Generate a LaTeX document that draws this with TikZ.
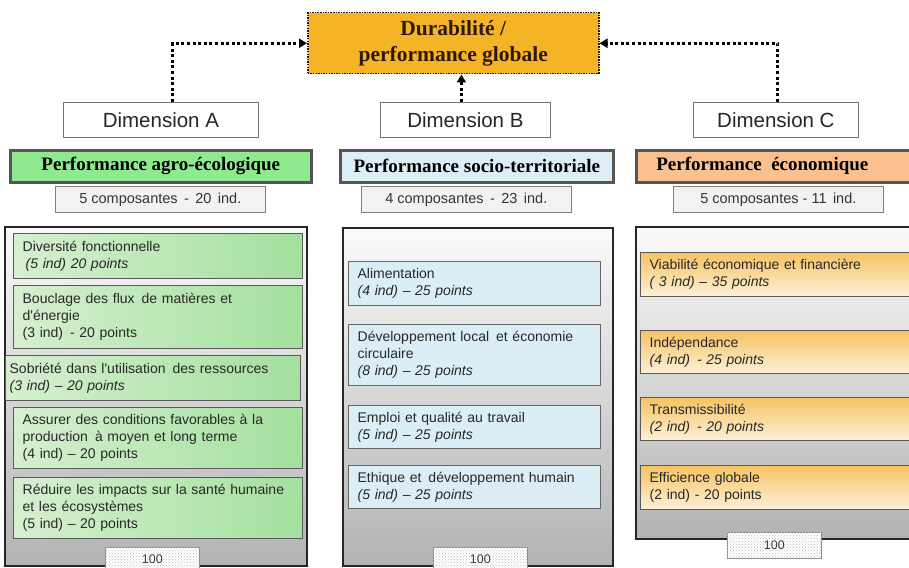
\documentclass[tikz,border=0pt]{standalone}
\usepackage{fontspec}
\setmainfont{Liberation Serif}
\newfontfamily\arialfont{Liberation Sans}
\usetikzlibrary{arrows.meta,calc,positioning,patterns}

\definecolor{goldFill}{RGB}{245,179,38}
\definecolor{goldText}{RGB}{45,25,5}
\definecolor{hdrLine}{RGB}{85,85,85}
\definecolor{greenHdr}{RGB}{143,234,143}
\definecolor{blueHdr}{RGB}{221,238,246}
\definecolor{orangeHdr}{RGB}{250,192,144}
\definecolor{greenLt}{RGB}{214,239,208}
\definecolor{greenDk}{RGB}{163,224,158}
\definecolor{blueItem}{RGB}{219,238,245}
\definecolor{orangeDk}{RGB}{246,195,98}
\definecolor{orangeLt}{RGB}{253,241,217}
\definecolor{itemLine}{RGB}{90,90,90}
\definecolor{itemText}{RGB}{40,40,40}

\newcommand{\itemfont}{\arialfont\fontsize{14}{17}\selectfont}
\newcommand{\ndash}{\textendash}

\begin{document}
\begin{tikzpicture}[
    x=1pt, y=-1pt,
    dotLink/.style={line width=3pt, dash pattern=on 3pt off 2.6pt,
      -{Triangle[length=8pt,width=9pt]}},
    topBox/.style={anchor=north west, draw=goldText, line width=1.5pt,
      dash pattern=on 1.5pt off 1.1pt, fill=goldFill, align=center,
      text=goldText, font=\bfseries\fontsize{21.5}{26}\selectfont},
    dimBox/.style={anchor=north west, draw=black!55, line width=0.8pt, fill=white,
      minimum height=35pt, text=black!85, font=\arialfont\fontsize{20.5}{22}\selectfont},
    hdr/.style={anchor=north west, draw=hdrLine, line width=2.6pt,
      minimum height=32pt, font=\bfseries\fontsize{19}{21}\selectfont},
    compBox/.style={anchor=north west, draw=black!50, line width=0.7pt, fill=black!5,
      minimum width=210pt, minimum height=26pt, text=black!80,
      font=\arialfont\fontsize{14.5}{16}\selectfont},
    panel/.style={anchor=north west, draw=black!85, line width=2.2pt,
      top color=black!2, bottom color=black!30},
    item/.style={anchor=north west, draw=itemLine, line width=1.3pt, align=left,
      inner xsep=9pt, text=itemText, font=\itemfont},
    itemA/.style={item, left color=greenLt, right color=greenDk},
    itemB/.style={item, fill=blueItem, draw=black!60},
    itemC/.style={item, top color=orangeDk, bottom color=orangeLt},
    totBox/.style={anchor=north west, draw=black!45, line width=0.6pt, fill=white,
      postaction={pattern=crosshatch dots, pattern color=black!25},
      minimum width=94pt, minimum height=24pt, text=black!75,
      font=\arialfont\fontsize{12.5}{14}\selectfont},
  ]

\clip (0,0) rectangle (909,567);

% ---- overall sustainability box ---------------------------------------
\node[topBox, minimum width=291pt, minimum height=61pt] (top) at (307,12)
      {Durabilit\'e /\\performance globale};

% ---- three dimensions ---------------------------------------------------
\node[dimBox, minimum width=195pt] (dimA) at (63,102) {Dimension A};
\node[dimBox, minimum width=170pt] (dimB) at (380,102) {Dimension B};
\node[dimBox, minimum width=165pt] (dimC) at (693,102) {Dimension C};

\draw[dotLink] ([xshift=12pt]dimA.north) |- (top.west);
\draw[dotLink] ([xshift=-4pt]dimB.north) -- ([xshift=-4pt]dimB.north |- top.south);
\draw[dotLink] ([xshift=2pt]dimC.north) |- (top.east);

% ---- headers --------------------------------------------------------------
\node[hdr, fill=greenHdr, minimum width=301pt] (hdrA) at (9,149) {Performance agro-\'ecologique};
\node[hdr, fill=blueHdr, minimum width=273pt] (hdrB) at (339,149) {Performance socio-territoriale};
\node[hdr, fill=orangeHdr, minimum width=282pt, text width=262pt, align=left] (hdrC) at (635,149)
      {\hspace{10pt}Performance\, \'economique};

\node[compBox] (compA) at (55,186) {5 composantes \,-\, 20\, ind.};
\node[compBox] (compB) at (361,186) {4 composantes \,-\, 23\, ind.};
\node[compBox] (compC) at (673,186) {5 composantes - 11\, ind.};

% ---- panels ------------------------------------------------------------------
\node[panel, minimum width=302pt, minimum height=339pt] (panA) at (4,226) {};
\node[panel, minimum width=270pt, minimum height=338pt] (panB) at (342,227) {};
\node[panel, minimum width=280pt, minimum height=312pt] (panC) at (635,226) {};

% ---- dimension A components -------------------------------------------------
\node[itemA, text width=271pt, minimum height=45pt] (a1) at (13,233)
      {Diversit\'e fonctionnelle\\\hspace{3pt}\textit{(5 ind) 20 points}};
\node[itemA, text width=271pt, minimum height=63pt] (a2) at (13,285)
      {Bouclage des flux\, de mati\`eres et\\d'\'energie\\(3 ind)\, - 20 points};
\node[itemA, text width=287pt, minimum height=45pt, inner xsep=4pt] (a3) at (5,355)
      {Sobri\'et\'e dans l'utilisation\, des ressources\\\textit{(3 ind) \ndash{} 20 points}};
\node[itemA, text width=271pt, minimum height=61pt] (a4) at (13,407)
      {Assurer des conditions favorables \`a la\\production\, \`a moyen et long terme\\(4 ind) \ndash{} 20 points};
\node[itemA, text width=271pt, minimum height=61pt] (a5) at (13,477)
      {R\'eduire les impacts sur la sant\'e humaine\\et les \'ecosyst\`emes\\(5 ind) \ndash{} 20 points};

% ---- dimension B components -------------------------------------------------
\node[itemB, text width=234pt, minimum height=44pt] (b1) at (348,261)
      {Alimentation\\\textit{(4 ind) \ndash{} 25 points}};
\node[itemB, text width=234pt, minimum height=61pt] (b2) at (348,324)
      {D\'eveloppement local\, et \'economie\\circulaire\\\textit{(8 ind) \ndash{} 25 points}};
\node[itemB, text width=234pt, minimum height=43pt] (b3) at (348,405)
      {Emploi et qualit\'e au travail\\\textit{(5 ind) \ndash{} 25 points}};
\node[itemB, text width=234pt, minimum height=43pt] (b4) at (348,465)
      {Ethique et\, d\'eveloppement humain\\\textit{(5 ind) \ndash{} 25 points}};

% ---- dimension C components -------------------------------------------------
\node[itemC, text width=254pt, minimum height=44pt] (c1) at (640,252)
      {Viabilit\'e \'economique et financi\`ere\\\textit{( 3 ind) \ndash{} 35 points}};
\node[itemC, text width=254pt, minimum height=43pt] (c2) at (640,330)
      {Ind\'ependance\\\textit{(4 ind)\, - 25 points}};
\node[itemC, text width=254pt, minimum height=43pt] (c3) at (640,397)
      {Transmissibilit\'e\\\textit{(2 ind)\, - 20 points}};
\node[itemC, text width=254pt, minimum height=44pt] (c4) at (640,465)
      {Efficience globale\\(2 ind) - 20 points};

% ---- totals --------------------------------------------------------------------
\node[totBox] (totA) at (105,547) {100};
\node[totBox] (totB) at (433,547) {100};
\node[totBox, minimum height=26pt] (totC) at (727,532) {100};

\end{tikzpicture}
\end{document}
